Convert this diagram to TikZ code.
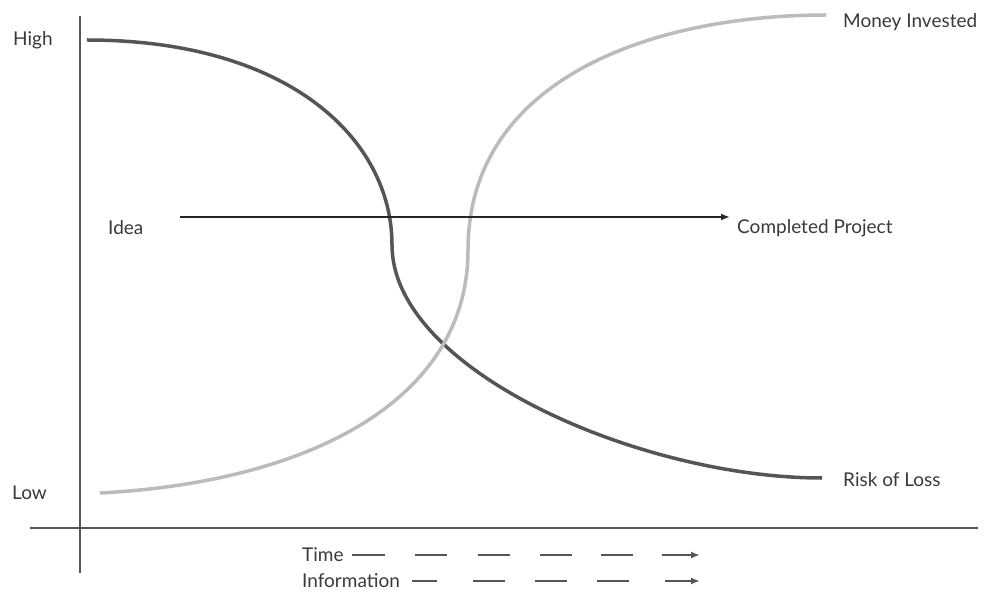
\documentclass[tikz,border=0pt]{standalone}
\usepackage{fontspec}
\setmainfont{Lato}
\usetikzlibrary{arrows.meta}
\definecolor{txt}{HTML}{3A3A3A}
\definecolor{darkc}{HTML}{555555}
\definecolor{lightc}{HTML}{BBBBBB}
\tikzset{
  lbl/.style={text=txt, font=\fontsize{19}{22}\selectfont, inner sep=0pt},
  axisline/.style={draw=darkc, line width=1.6pt},
  riskcurve/.style={draw=darkc, line width=3.5pt},
  moneycurve/.style={draw=lightc, line width=3.5pt},
  mainarrow/.style={draw=black!85, line width=1.8pt, -{Latex[length=9pt,width=7pt]}},
  dashline/.style={draw=darkc, line width=1.8pt},
  dasharrow/.style={draw=darkc, line width=1.8pt, -{Latex[length=9pt,width=7pt]}}
}
\begin{document}
\begin{tikzpicture}[x=1pt,y=-1pt]
\useasboundingbox[fill=white] (0,0) rectangle (985,593);
% axes
\coordinate (vt) at (80,16);
\coordinate (vb) at (80,573);
\coordinate (hl) at (30,528);
\coordinate (hr) at (978,528);
\draw[axisline] (vt) -- (vb);
\draw[axisline] (hl) -- (hr);
% labels
\node[lbl, anchor=west] (high) at (13,40) {High};
\node[lbl, anchor=west] (low) at (12,493) {Low};
\node[lbl, anchor=west] (money) at (843,22) {Money Invested};
\node[lbl, anchor=west] (risk) at (843,480) {Risk of Loss};
\node[lbl, anchor=west] (idea) at (108,228) {Idea};
\node[lbl, anchor=west] (done) at (737,228) {Completed Project};
% curves
\coordinate (r0) at (87,40);
\coordinate (rm) at (392,245);
\coordinate (r1) at (822,478);
\draw[riskcurve] (r0) .. controls (290,40) and (392,140) .. (rm)
  .. controls (392,370) and (640,478) .. (r1);
\coordinate (m0) at (100,493);
\coordinate (mm) at (468,250);
\coordinate (m1) at (826,15);
\draw[moneycurve] (m0) .. controls (310,482) and (468,400) .. (mm)
  .. controls (468,80) and (650,15) .. (m1);
% main arrow
\coordinate (a0) at (180,217);
\coordinate (a1) at (730,217);
\draw[mainarrow] (a0) -- (a1);
% time / information
\node[lbl, anchor=west] (time) at (302,555) {Time};
\node[lbl, anchor=west] (info) at (302,581) {Information};
\foreach \a/\b in {352/385, 415/447, 478/510, 540/572, 601/633}{
  \draw[dashline] (\a,555) -- (\b,555);
}
\coordinate (t0) at (662,555);
\coordinate (t1) at (700,555);
\draw[dasharrow] (t0) -- (t1);
\foreach \a/\b in {412/437, 473/505, 535/567, 597/629}{
  \draw[dashline] (\a,581) -- (\b,581);
}
\coordinate (i0) at (665,581);
\coordinate (i1) at (700,581);
\draw[dasharrow] (i0) -- (i1);
\end{tikzpicture}
\end{document}
